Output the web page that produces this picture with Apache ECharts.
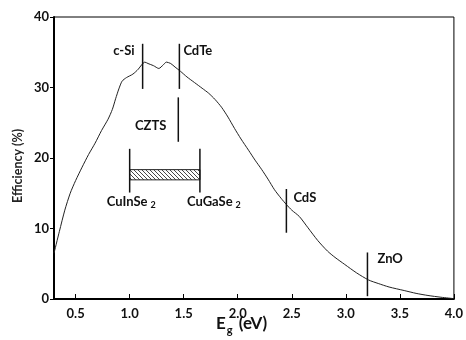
<!DOCTYPE html>
<html>
<head>
<meta charset="utf-8">
<script src="https://cdn.jsdelivr.net/npm/echarts@6/dist/echarts.min.js"></script>
<style>
  html, body { margin: 0; padding: 0; background: #fff; }
  #chart { width: 466px; height: 340px; }
</style>
</head>
<body>
<div id="chart"></div>
<script>
// Detailed-balance efficiency limit versus band gap
const bandGap = [0.30, 0.35, 0.40, 0.45, 0.50, 0.56, 0.62, 0.68, 0.74, 0.80, 0.84, 0.87, 0.90, 0.93,
  0.97, 1.03, 1.08, 1.11, 1.14, 1.17, 1.22, 1.27, 1.31, 1.34, 1.38, 1.42, 1.47, 1.53, 1.60, 1.67,
  1.73, 1.79, 1.85, 1.91, 1.97, 2.03, 2.10, 2.16, 2.22, 2.28, 2.34, 2.40, 2.45, 2.50, 2.57, 2.65,
  2.74, 2.83, 2.90, 2.99, 3.10, 3.21, 3.30, 3.40, 3.54, 3.65, 3.76, 3.88, 4.00];
const efficiency = [6.5, 9.6, 12.6, 15.0, 16.8, 18.7, 20.5, 22.1, 23.9, 25.5, 26.9, 28.4, 29.8, 30.9,
  31.4, 31.9, 32.6, 33.2, 33.6, 33.4, 33.1, 32.7, 33.2, 33.6, 33.4, 32.9, 32.3, 31.5, 30.7, 29.9,
  29.2, 28.3, 27.2, 25.8, 24.2, 22.7, 21.1, 19.7, 18.4, 17.0, 15.5, 14.3, 13.4, 12.6, 11.7, 10.1,
  8.3, 6.8, 5.9, 4.9, 3.7, 2.7, 2.2, 1.7, 1.2, 0.8, 0.5, 0.25, 0.05];

// Absorber / window materials: band gap and vertical extent of each marker bar
const materials   = ['c-Si', 'CdTe', 'CZTS', 'CuInSe{s|2}', 'CuGaSe{s|2}', 'CdS', 'ZnO'];
const materialGap = [1.12, 1.46, 1.45, 1.00, 1.65, 2.45, 3.20];
const markerTop    = [36.2, 36.2, 28.6, 21.3, 21.3, 15.6, 6.6];
const markerBottom = [29.8, 29.8, 22.3, 15.1, 15.1, 9.4, 0.4];

// CuIn(1-x)Ga(x)Se2 alloy range
const alloyGap = [1.00, 1.65];
const alloyEff = [16.9, 18.35];

const xTickValues = [0.5, 1.0, 1.5, 2.0, 2.5, 3.0, 3.5, 4.0];

const FONT = 'Lato';

// label placement next to each marker bar (pixel offsets)
const labelPlace = [
  { at: 'top',    dx: -8,  dy: 7,  align: 'right' },
  { at: 'top',    dx: 4,   dy: 7,  align: 'left'  },
  { at: 'mid',    dx: -12, dy: 6,  align: 'right' },
  { at: 'bottom', dx: -23, dy: 9,  align: 'left'  },
  { at: 'bottom', dx: -13, dy: 9,  align: 'left'  },
  { at: 'top',    dx: 7,   dy: 9,  align: 'left'  },
  { at: 'top',    dx: 10,  dy: 6,  align: 'left'  }
];

// diagonal hatch tile for the alloy band
const tile = document.createElement('canvas');
tile.width = 4; tile.height = 4;
(function () {
  const g = tile.getContext('2d');
  g.fillStyle = '#fff'; g.fillRect(0, 0, 4, 4);
  g.strokeStyle = '#333'; g.lineWidth = 0.9;
  g.beginPath();
  g.moveTo(-1, -1); g.lineTo(5, 5);
  g.moveTo(-1, 3); g.lineTo(1, 5);
  g.moveTo(3, -1); g.lineTo(5, 1);
  g.stroke();
})();

const subRich = {
  s: { fontFamily: FONT, fontWeight: 'bold', fontSize: 9, fill: '#111', padding: [8, 0, 0, 3] }
};

const chart = echarts.init(document.getElementById('chart'), null, { renderer: 'canvas' });

chart.setOption({
  animation: false,
  backgroundColor: '#fff',
  grid: { left: 54, right: 8, top: 17, bottom: 41, show: true, borderColor: '#000', borderWidth: 1 },
  xAxis: {
    type: 'value', min: 0.3, max: 4.0,
    axisLine: { show: true, onZero: false, lineStyle: { color: '#000', width: 2 } },
    axisTick: { show: true, inside: true, length: 5, customValues: xTickValues, lineStyle: { color: '#000', width: 1 } },
    axisLabel: {
      customValues: xTickValues, margin: 8,
      formatter: v => v.toFixed(1),
      fontFamily: FONT, fontWeight: 'bold', fontSize: 13, color: '#111'
    },
    splitLine: { show: false }
  },
  yAxis: {
    type: 'value', min: 0, max: 40, interval: 10,
    axisLine: { show: true, lineStyle: { color: '#000', width: 2 } },
    axisTick: { show: true, inside: false, length: 4, lineStyle: { color: '#000', width: 1 } },
    axisLabel: { margin: 5, fontFamily: FONT, fontWeight: 'bold', fontSize: 13, color: '#111' },
    splitLine: { show: false }
  },
  graphic: [
    {
      type: 'text', left: 216, top: 315,
      style: {
        text: 'E{g|g} (eV)',
        fontFamily: FONT, fontWeight: 'bold', fontSize: 17, fill: '#111',
        rich: { g: { fontFamily: FONT, fontWeight: 'bold', fontSize: 11, fill: '#111', padding: [14, 2, 0, 1] } }
      }
    },
    {
      type: 'text', x: 11, y: 203, rotation: Math.PI / 2,
      style: { text: 'Efficiency (%)', fontFamily: FONT, fontWeight: 'bold', fontSize: 12.5, fill: '#222' }
    }
  ],
  series: [
    {
      type: 'line',
      data: bandGap.map((g, i) => [g, efficiency[i]]),
      showSymbol: false, smooth: 0.25,
      lineStyle: { color: '#222', width: 1 },
      z: 3
    },
    {
      type: 'custom',
      data: [[alloyGap[0], alloyGap[1], alloyEff[0], alloyEff[1]]],
      renderItem: (params, api) => {
        const p0 = api.coord([api.value(0), api.value(3)]);
        const p1 = api.coord([api.value(1), api.value(2)]);
        return {
          type: 'rect',
          shape: { x: p0[0], y: p0[1], width: p1[0] - p0[0], height: p1[1] - p0[1] },
          style: { fill: { image: tile, repeat: 'repeat' }, stroke: '#222', lineWidth: 1 }
        };
      },
      z: 4
    },
    {
      type: 'custom',
      data: materialGap.map((g, i) => [g, markerTop[i], markerBottom[i], i]),
      renderItem: (params, api) => {
        const i = api.value(3);
        const top = api.coord([api.value(0), api.value(1)]);
        const bot = api.coord([api.value(0), api.value(2)]);
        const lp = labelPlace[i];
        const baseY = lp.at === 'top' ? top[1] : lp.at === 'bottom' ? bot[1] : (top[1] + bot[1]) / 2;
        return {
          type: 'group',
          children: [
            {
              type: 'line',
              shape: { x1: top[0], y1: top[1], x2: bot[0], y2: bot[1] },
              style: { stroke: '#111', lineWidth: 1.5 }
            },
            {
              type: 'text',
              x: top[0] + lp.dx, y: baseY + lp.dy,
              style: {
                text: materials[i], align: lp.align, verticalAlign: 'middle',
                fontFamily: FONT, fontWeight: 'bold', fontSize: 13, fill: '#111',
                rich: subRich
              }
            }
          ]
        };
      },
      z: 5
    }
  ]
});
</script>
</body>
</html>
